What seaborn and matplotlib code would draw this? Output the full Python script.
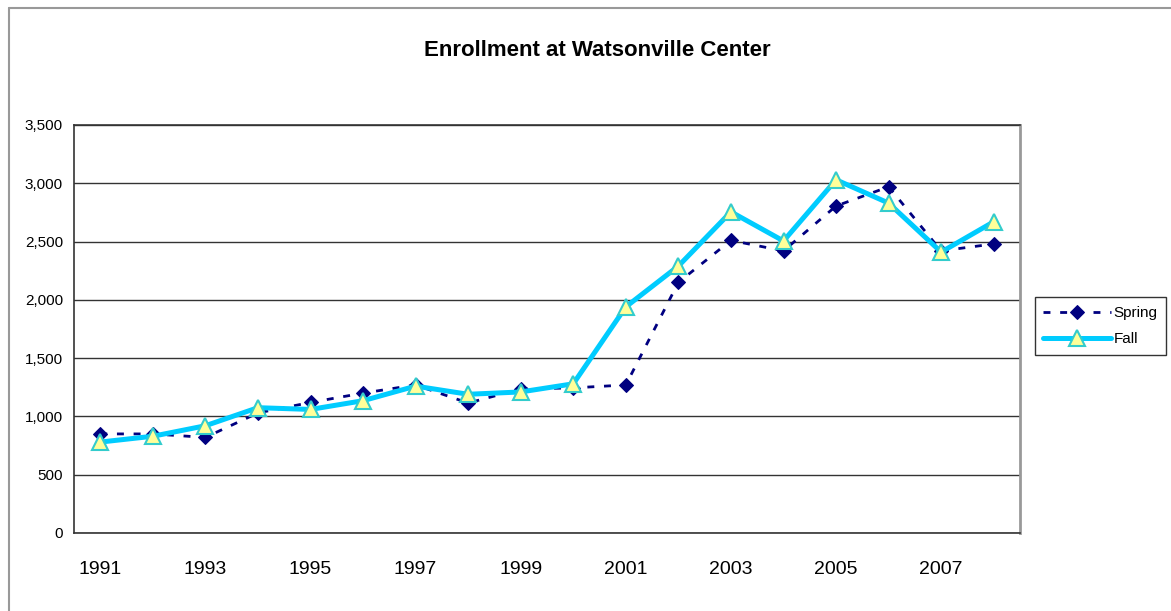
import matplotlib
matplotlib.use("Agg")
import matplotlib.pyplot as plt
import pandas as pd
import seaborn as sns
from matplotlib.lines import Line2D
from matplotlib.ticker import FixedLocator, FuncFormatter

# Enrollment counts
years = list(range(1991, 2009))
spring = [850, 850, 820, 1030, 1120, 1200, 1270, 1115, 1235, 1245,
          1270, 2150, 2510, 2420, 2805, 2970, 2420, 2480]
fall = [780, 830, 920, 1075, 1060, 1135, 1260, 1190, 1210, 1280,
        1940, 2290, 2755, 2505, 3030, 2830, 2410, 2670]
label_years = years[::2]
y_ticks = list(range(0, 3501, 500))

sns.set_style("white")
plt.rcParams["font.family"] = ["Liberation Sans Narrow", "Liberation Sans", "DejaVu Sans"]
plt.rcParams["text.color"] = "black"
plt.rcParams["xtick.color"] = "black"
plt.rcParams["ytick.color"] = "black"

df = pd.DataFrame({"Year": years, "Spring": spring, "Fall": fall})

fig = plt.figure(figsize=(11.71, 6.11), dpi=100)
ax = fig.add_axes([74 / 1171, 1 - 533 / 611, (1020 - 74) / 1171, (533 - 125) / 611])

sns.lineplot(data=df, x="Year", y="Spring", ax=ax, color="#000080", lw=2,
             dashes=False, linestyle=(0, (2.5, 3.5)), marker="D", markersize=7.5,
             markerfacecolor="#000080", markeredgecolor="#000080", label="Spring", zorder=3)
sns.lineplot(data=df, x="Year", y="Fall", ax=ax, color="#00CCFF", lw=3.6,
             marker="^", markersize=11, markerfacecolor="#FFFF99",
             markeredgecolor="#33CCCC", markeredgewidth=1.5, label="Fall", zorder=4)

ax.set_xlim(years[0] - 0.5, years[-1] + 0.5)
ax.set_ylim(0, 3500)
ax.set_xlabel("")
ax.set_ylabel("")

# y axis
ax.yaxis.set_major_locator(FixedLocator(y_ticks))
ax.yaxis.set_major_formatter(FuncFormatter(lambda v, p: f"{int(v):,}"))
ax.tick_params(axis="y", which="major", direction="inout", length=8, width=1,
               color="#333333", labelsize=11, pad=4)
ax.grid(axis="y", color="#333333", lw=1)
ax.grid(axis="x", visible=False)

# x axis: ticks on category boundaries, labels every other year
ax.xaxis.set_major_locator(FixedLocator([y - 0.5 for y in years] + [years[-1] + 0.5]))
ax.xaxis.set_major_formatter(FuncFormatter(lambda v, p: ""))
ax.xaxis.set_minor_locator(FixedLocator(label_years))
ax.xaxis.set_minor_formatter(FuncFormatter(lambda v, p: str(int(round(v)))))
ax.tick_params(axis="x", which="major", direction="out", length=7, width=1, color="#333333")
ax.tick_params(axis="x", which="minor", length=0, labelsize=14, pad=20)

for side in ["left", "bottom", "top"]:
    ax.spines[side].set_color("#333333")
    ax.spines[side].set_linewidth(1.2)
ax.spines["right"].set_color("#999999")
ax.spines["right"].set_linewidth(2)

fig.text(597 / 1171, 1 - 50 / 611, "Enrollment at Watsonville Center",
         ha="center", va="center", fontsize=16, fontweight="bold")

leg = ax.legend(loc="center left", bbox_to_anchor=(1035 / 1171, 1 - 326 / 611),
                bbox_transform=fig.transFigure, fontsize=11, frameon=True,
                fancybox=False, edgecolor="black", handlelength=4.4,
                handletextpad=0.2, borderpad=0.55, labelspacing=0.8, borderaxespad=0)
leg.get_frame().set_linewidth(1)

# outer chart border
fig.add_artist(Line2D([9 / 1171, 9 / 1171], [0, 1 - 8 / 611], color="#999999", lw=1.5))
fig.add_artist(Line2D([9 / 1171, 1], [1 - 8 / 611, 1 - 8 / 611], color="#999999", lw=1.5))

fig.savefig("out.png", dpi=100)
